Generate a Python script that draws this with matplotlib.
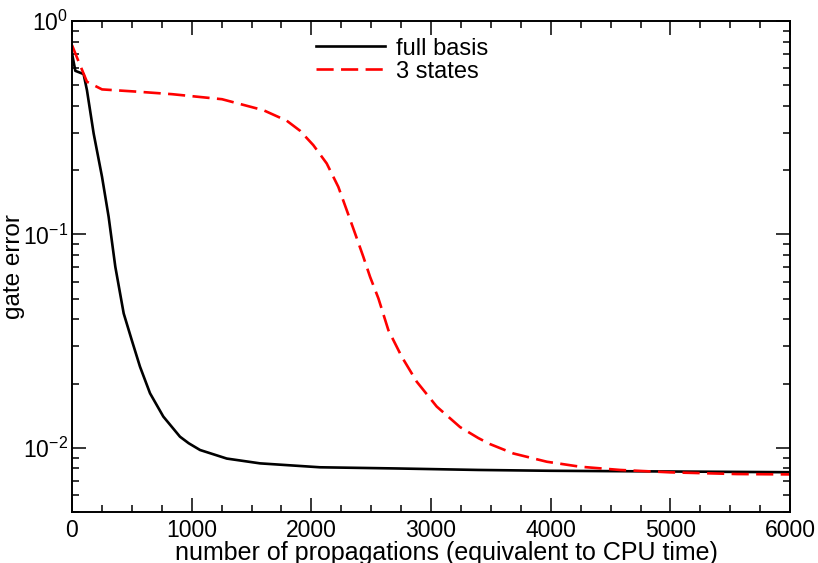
import numpy as np
import matplotlib
matplotlib.use("Agg")
import matplotlib.pyplot as plt
from matplotlib.ticker import MultipleLocator, LogLocator, NullFormatter

plt.rcParams['font.family'] = ['Liberation Sans', 'DejaVu Sans']
plt.rcParams['mathtext.fontset'] = 'custom'
plt.rcParams['mathtext.rm'] = 'Liberation Sans'
plt.rcParams['mathtext.it'] = 'Liberation Sans'
plt.rcParams['axes.unicode_minus'] = False

# full basis
full_x = [0, 28, 97, 125, 181, 251, 306, 362, 432, 499, 568, 652, 763, 902,
          975, 1070, 1293, 1571, 2072, 2700, 3395, 4000, 5000, 6000]
full_y = [0.706, 0.584, 0.564, 0.474, 0.297, 0.186, 0.121, 0.0705, 0.0426,
          0.0320, 0.0240, 0.0180, 0.0140, 0.01127, 0.0105, 0.00976, 0.0089,
          0.00845, 0.0081, 0.0080, 0.00787, 0.0078, 0.00774, 0.00768]

# 3 states
red_x = [0, 56, 125, 251, 557, 836, 1253, 1599, 1794, 1905, 2016, 2128, 2225,
         2295, 2365, 2434, 2490, 2560, 2643, 2755, 2880, 3047, 3242, 3395,
         3493, 3688, 3967, 4245, 4579, 4997, 5554, 6000]
red_y = [0.771, 0.644, 0.519, 0.478, 0.466, 0.454, 0.430, 0.382, 0.341, 0.306,
         0.262, 0.215, 0.167, 0.130, 0.101, 0.0785, 0.0633, 0.0501, 0.0356,
         0.0267, 0.0204, 0.0156, 0.0125, 0.0111, 0.0104, 0.0094, 0.0086,
         0.00815, 0.00787, 0.00767, 0.00753, 0.0075]

fig = plt.figure(figsize=(8.18, 5.63), dpi=100)
ax = fig.add_axes([0.088, 0.0906, 0.878, 0.8721])

ax.plot(full_x, full_y, color='black', lw=1.9, label='full basis')
line, = ax.plot(red_x, red_y, color='red', lw=1.9, label='3 states')
line.set_dashes((6.5, 2.8))

ax.set_yscale('log')
ax.set_xlim(0, 6000)
ax.set_ylim(0.005, 1)

ax.xaxis.set_major_locator(MultipleLocator(1000))
ax.xaxis.set_minor_locator(MultipleLocator(250))
ax.yaxis.set_major_locator(LogLocator(base=10, numticks=10))
ax.yaxis.set_minor_locator(LogLocator(base=10, subs=np.arange(2, 10), numticks=20))
ax.yaxis.set_minor_formatter(NullFormatter())

ax.tick_params(which='both', direction='in', top=True, right=True,
               labelsize=16.5, width=1.1)
ax.tick_params(which='major', length=10)
ax.tick_params(which='minor', length=5)
ax.tick_params(axis='x', which='major', pad=5)
ax.tick_params(axis='y', which='major', pad=3)
for s in ax.spines.values():
    s.set_linewidth(1.4)

ax.set_xlabel('number of propagations (equivalent to CPU time)', fontsize=18)
ax.xaxis.set_label_coords(0.522, -0.097)
ax.xaxis.label.set_va('baseline')
ax.set_ylabel('gate error', fontsize=17.5)
ax.yaxis.set_label_coords(-0.066, 0.5)

ax.legend(loc='upper center', bbox_to_anchor=(0.46, 1.0), frameon=False,
          fontsize=17, handlelength=2.9, handletextpad=0.5,
          labelspacing=0.05, borderaxespad=0.3)

fig.savefig('out.png', dpi=100)
